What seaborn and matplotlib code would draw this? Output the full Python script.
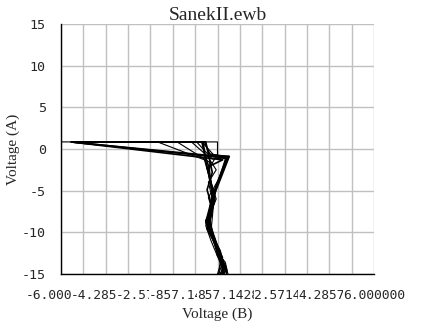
import matplotlib
matplotlib.use("Agg")
import matplotlib.pyplot as plt
import seaborn as sns
import pandas as pd
import numpy as np

title = "SanekII.ewb"
x_label = "Voltage (B)"
y_label = "Voltage (A)"

x_tick_values = [-6.0, -4.285714, -2.571429, -0.857143, 0.857143, 2.571429, 4.285714, 6.0]
x_tick_labels = ["-6.000000", "-4.285714", "-2.571429", "-857.142857m",
                 "857.142857m", "2.571429", "4.285714", "6.000000"]
y_tick_values = [-15, -10, -5, 0, 5, 10, 15]

# Sweeps (voltage B, voltage A)
s1_x = [-6.0, 0.0, 0.0, -0.35, -0.2, -0.25, -0.35, -0.1, 0.1, 0.05]
s1_y = [0.85, 0.85, -0.6, -2.5, -5.5, -7.5, -9.0, -11.5, -13.5, -15.0]
s2_x = [-5.6, 0.35, -0.1, -0.3, -0.45, -0.2, 0.05, 0.2, 0.15]
s2_y = [0.85, -1.1, -4.8, -7.0, -8.8, -10.5, -12.5, -14.0, -15.0]
s3_x = [-5.6, -0.55, -0.45, -0.25, -0.1, -0.3, -0.15, 0.15, 0.35, 0.2]
s3_y = [0.85, 0.85, -1.5, -4.0, -6.0, -8.5, -10.5, -13.0, -14.5, -15.0]
s4_x = [-5.5, 0.1, 0.45, 0.0, -0.25, -0.4, -0.1, 0.0, 0.3, 0.1]
s4_y = [0.8, -0.9, -0.9, -4.5, -6.5, -9.0, -10.8, -12.8, -14.2, -15.0]
s5_x = [-2.3, -0.5, -0.35, -0.2, -0.3, -0.45, -0.25, -0.05, 0.15, 0.05]
s5_y = [0.85, -1.3, -3.0, -5.5, -7.2, -9.2, -11.0, -12.5, -14.0, -15.0]
s6_x = [-1.55, -0.3, -0.3, -0.05, -0.3, -0.3, -0.05, 0.1, 0.25]
s6_y = [0.85, -1.6, -3.5, -6.0, -8.0, -9.8, -11.8, -13.5, -15.0]
s7_x = [-0.8, -0.2, 0.2, 0.3, -0.05, -0.2, -0.35, -0.15, 0.05, 0.35, 0.2]
s7_y = [0.85, -1.2, -1.1, -1.2, -4.6, -6.8, -8.5, -10.2, -12.0, -14.6, -15.0]
s8_x = [-5.6, -0.5, -0.3, 0.4, -0.05, -0.15, -0.4, -0.2, 0.1, 0.25, 0.12]
s8_y = [0.85, 0.85, -0.6, -1.0, -4.5, -6.2, -8.8, -10.4, -12.2, -14.0, -15.0]
s9_x = [-5.5, 0.2, -0.4, -0.25, -0.15, -0.35, -0.1, 0.1, 0.28, 0.18]
s9_y = [0.8, -1.3, -2.2, -4.2, -6.4, -9.4, -11.4, -13.2, -14.4, -15.0]
s10_x = [-5.6, -0.6, -0.5, -0.35, -0.2, -0.3, -0.4, -0.05, 0.15, 0.25]
s10_y = [0.85, 0.85, -0.5, -2.0, -5.0, -7.8, -9.6, -11.6, -13.8, -15.0]
s11_x = [-1.0, -0.4, -0.05, -0.35, -0.15, -0.25, 0.0, 0.3, 0.4]
s11_y = [0.85, -0.8, -2.5, -4.0, -6.6, -9.9, -12.4, -13.6, -15.0]
s12_x = [-0.6, -0.15, 0.45, 0.05, -0.35, -0.2, -0.3, -0.1, 0.2, 0.0]
s12_y = [0.85, -0.7, -0.85, -3.6, -5.8, -7.4, -9.0, -11.2, -13.0, -15.0]
s13_x = [-5.6, -0.45, -0.2, -0.4, -0.2, -0.45, -0.2, 0.05, 0.3, 0.35]
s13_y = [0.85, 0.85, -2.8, -4.9, -7.1, -8.6, -10.6, -12.9, -14.0, -15.0]

thin = [("s1", s1_x, s1_y), ("s5", s5_x, s5_y), ("s6", s6_x, s6_y), ("s7", s7_x, s7_y),
        ("s11", s11_x, s11_y), ("s12", s12_x, s12_y)]
thick = [("s2", s2_x, s2_y), ("s3", s3_x, s3_y), ("s4", s4_x, s4_y),
         ("s8", s8_x, s8_y), ("s9", s9_x, s9_y), ("s10", s10_x, s10_y),
         ("s13", s13_x, s13_y)]

def frame(sweeps):
    rows = []
    for name, xs, ys in sweeps:
        for i, (a, b) in enumerate(zip(xs, ys)):
            rows.append({"sweep": name, "order": i, "vb": a, "va": b})
    return pd.DataFrame(rows)

df_thin = frame(thin)
df_thick = frame(thick)

sns.set_style("white")
plt.rcParams["font.family"] = ["DejaVu Sans"]

fig = plt.figure(figsize=(4.22, 3.27), dpi=100)
ax = fig.add_axes([61 / 422, 1 - 274 / 327, (374 - 61) / 422, (274 - 24) / 327])

# grid
for v in np.linspace(-6, 6, 15):
    ax.axvline(v, color="#c0c0c0", lw=1.0, zorder=0)
for v in y_tick_values:
    ax.axhline(v, color="#c0c0c0", lw=1.0, zorder=0)

sns.lineplot(data=df_thin, x="vb", y="va", units="sweep", estimator=None, sort=False,
             color="black", lw=0.8, ax=ax)
sns.lineplot(data=df_thick, x="vb", y="va", units="sweep", estimator=None, sort=False,
             color="black", lw=1.2, ax=ax)

ax.set_xlim(-6, 6)
ax.set_ylim(-15, 15)
for s in ["top", "right"]:
    ax.spines[s].set_visible(False)
for s in ["left", "bottom"]:
    ax.spines[s].set_color("black")
    ax.spines[s].set_linewidth(1.0)

ax.set_xticks(x_tick_values)
ax.set_xticklabels(x_tick_labels, family="DejaVu Sans Mono", fontsize=9.3)
ax.set_yticks(y_tick_values)
ax.set_yticklabels([str(v) for v in y_tick_values], family="DejaVu Sans Mono", fontsize=9.6)
ax.tick_params(axis="x", direction="out", length=5, width=1, color="black", pad=6)
ax.tick_params(axis="y", direction="out", length=6, width=1, color="black", pad=5)
for lab in ax.get_xticklabels():
    lab.set_bbox(dict(facecolor="white", edgecolor="none", pad=0))

ax.set_xlabel(x_label, family="Liberation Serif", fontsize=11, labelpad=4)
ax.set_ylabel(y_label, family="Liberation Serif", fontsize=11, labelpad=1)
ax.set_title(title, family="Liberation Serif", fontsize=14, pad=3)

fig.savefig("out.png", dpi=100)
